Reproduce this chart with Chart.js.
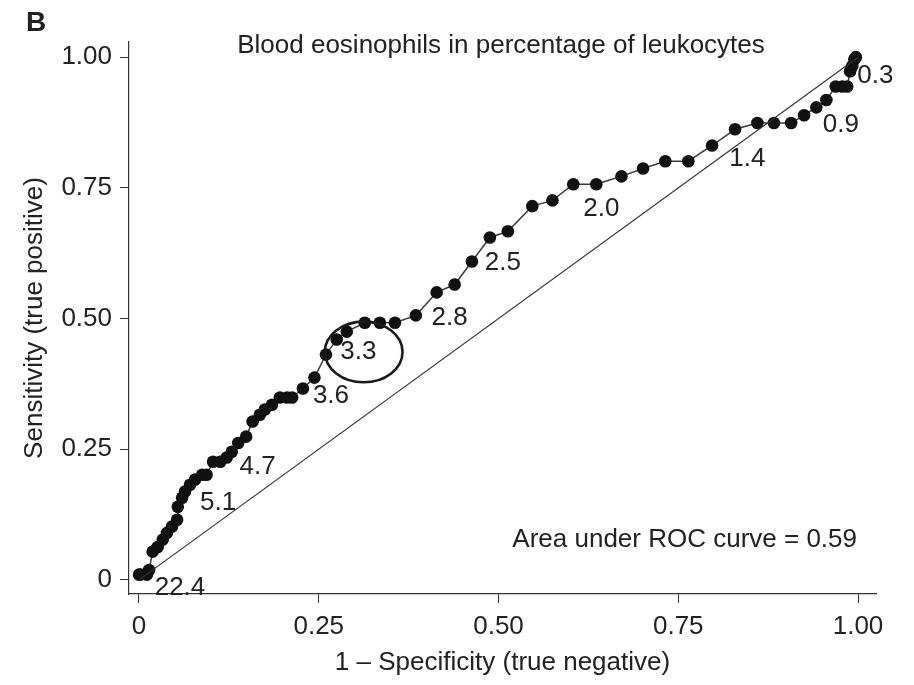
<!DOCTYPE html>
<html>
<head>
<meta charset="utf-8">
<script src="https://cdn.jsdelivr.net/npm/chart.js@4.4.0/dist/chart.umd.min.js"></script>
<style>
  body { margin: 0; background: #fff; }
  canvas { display: block; }
</style>
</head>
<body>
<canvas id="roc" width="914" height="685"></canvas>
<script>
// ---------------- Data ----------------
const fpr = [0.000, 0.002, 0.011, 0.014, 0.019, 0.026, 0.033, 0.039, 0.046, 0.053,
             0.054, 0.060, 0.064, 0.071, 0.078, 0.088, 0.094, 0.103, 0.113, 0.122,
             0.129, 0.138, 0.149, 0.158, 0.168, 0.175, 0.185, 0.196, 0.206, 0.213,
             0.228, 0.244, 0.260, 0.275, 0.289, 0.314, 0.335, 0.356, 0.385, 0.414,
             0.439, 0.463, 0.488, 0.513, 0.547, 0.575, 0.604, 0.636, 0.671, 0.701,
             0.732, 0.764, 0.797, 0.829, 0.860, 0.883, 0.907, 0.925, 0.942, 0.956,
             0.969, 0.978, 0.985, 0.989, 0.992, 0.995, 0.997];
const tpr = [0.010, 0.010, 0.010, 0.019, 0.054, 0.063, 0.077, 0.090, 0.102, 0.115,
             0.140, 0.157, 0.169, 0.182, 0.192, 0.201, 0.201, 0.226, 0.226, 0.234,
             0.245, 0.262, 0.274, 0.303, 0.316, 0.326, 0.335, 0.349, 0.349, 0.349,
             0.366, 0.387, 0.431, 0.460, 0.475, 0.492, 0.492, 0.492, 0.506, 0.550,
             0.565, 0.609, 0.655, 0.667, 0.715, 0.726, 0.757, 0.757, 0.772, 0.787,
             0.801, 0.801, 0.831, 0.862, 0.874, 0.874, 0.874, 0.889, 0.904, 0.918,
             0.944, 0.944, 0.944, 0.973, 0.983, 0.996, 1.000];

// cut-off labels (eosinophils %) and where they sit, in axis units
const cutLabels = ["22.4", "5.1", "4.7", "3.6", "3.3", "2.8", "2.5", "2.0", "1.4", "0.9", "0.3"];
const cutX = [0.057, 0.110, 0.165, 0.267, 0.305, 0.432, 0.506, 0.643, 0.846, 0.976, 1.024];
const cutY = [-0.015, 0.147, 0.217, 0.353, 0.437, 0.502, 0.607, 0.710, 0.805, 0.870, 0.965];

const tickValues = [0, 0.25, 0.5, 0.75, 1];
const titleText = "Blood eosinophils in percentage of leukocytes";
const aucText = "Area under ROC curve = 0.59";

const FONT = '"Liberation Sans", Arial, Helvetica, sans-serif';
const INK = "#222";

// ---------------- Annotations ----------------
const annotations = {
    id: "annotations",
    afterDatasetsDraw(chart) {
        const { ctx, scales: { x, y } } = chart;
        ctx.save();
        ctx.fillStyle = INK;
        ctx.font = `26px ${FONT}`;
        ctx.textAlign = "center";
        ctx.textBaseline = "middle";
        cutLabels.forEach((t, i) => {
            ctx.fillText(t, x.getPixelForValue(cutX[i]), y.getPixelForValue(cutY[i]));
        });

        // ellipse round the 3.3 cut-off
        const cx = x.getPixelForValue(0.3125), cy = y.getPixelForValue(0.436);
        const rx = x.getPixelForValue(0.054) - x.getPixelForValue(0);
        const ry = y.getPixelForValue(0) - y.getPixelForValue(0.058);
        ctx.beginPath();
        ctx.ellipse(cx, cy, rx, ry, 0, 0, Math.PI * 2);
        ctx.strokeStyle = "#1a1a1a";
        ctx.lineWidth = 2.6;
        ctx.stroke();

        // title inside the plot region
        ctx.fillText(titleText, 501, 46);

        ctx.textAlign = "right";
        ctx.fillText(aucText, 857, 540);

        ctx.font = `bold 28px ${FONT}`;
        ctx.textAlign = "center";
        ctx.fillText("B", 36, 23);
        ctx.restore();
    }
};

const fmt = v => v === 0 ? "0" : v.toFixed(2);

new Chart(document.getElementById("roc"), {
    type: "scatter",
    data: {
        datasets: [
            {
                data: [{ x: 0, y: 0 }, { x: 1, y: 1 }],
                showLine: true,
                borderColor: "#333",
                borderWidth: 1.2,
                pointRadius: 0
            },
            {
                data: fpr.map((v, i) => ({ x: v, y: tpr[i] })),
                showLine: true,
                borderColor: "#3c3c3c",
                borderWidth: 1.5,
                pointRadius: 6.3,
                pointBackgroundColor: "#111",
                pointBorderWidth: 0,
                clip: false
            }
        ]
    },
    options: {
        responsive: false,
        animation: false,
        layout: { padding: { left: 0, top: 42, right: 38, bottom: 0 } },
        plugins: { legend: { display: false }, tooltip: { enabled: false } },
        scales: {
            x: {
                type: "linear",
                min: -0.0139,
                max: 1.025,
                afterFit: s => { s.height = 91; },
                afterBuildTicks: s => { s.ticks = tickValues.map(v => ({ value: v })); },
                grid: { drawOnChartArea: false, drawTicks: true, tickLength: 9, color: "#333" },
                border: { display: true, color: "#333", width: 1.2 },
                ticks: { callback: fmt, color: INK, padding: 8, maxRotation: 0, font: { family: FONT, size: 26 } },
                title: { display: true, text: "1 \u2013 Specificity (true negative)", color: INK,
                         padding: { bottom: 7 }, font: { family: FONT, size: 26 } }
            },
            y: {
                type: "linear",
                min: -0.027,
                max: 1.029,
                afterFit: s => { s.width = 129; },
                afterBuildTicks: s => { s.ticks = tickValues.map(v => ({ value: v })); },
                grid: { drawOnChartArea: false, drawTicks: true, tickLength: 9, color: "#333" },
                border: { display: true, color: "#333", width: 1.2 },
                ticks: { callback: fmt, color: INK, padding: 8, font: { family: FONT, size: 26 } },
                title: { display: true, text: "Sensitivity (true positive)", color: INK,
                         padding: { top: 19 }, font: { family: FONT, size: 26 } }
            }
        }
    },
    plugins: [annotations]
});
</script>
</body>
</html>
